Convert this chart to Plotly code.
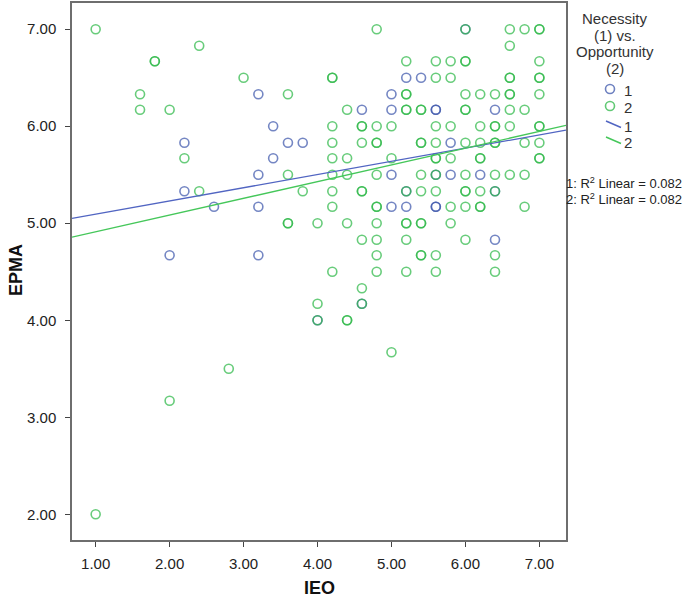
import plotly.graph_objects as go

# ---------------- data ----------------
# Group 1 (Necessity) points
blue_x = [3.2, 3.4, 2.2, 3.6, 3.8, 3.4, 3.2, 2.2, 2.6, 3.2, 2.0, 3.2,
          5.2, 5.4, 5.0, 4.6, 5.0, 5.6, 5.6, 6.4, 5.8, 5.0, 5.8, 6.2, 5.0, 5.2, 5.6, 5.6, 6.4,
          6.0, 5.6, 5.2, 6.4, 4.0, 4.6]
blue_y = [6.33, 6.0, 5.83, 5.83, 5.83, 5.67, 5.5, 5.33, 5.17, 5.17, 4.67, 4.67,
          6.5, 6.5, 6.33, 6.17, 6.17, 6.17, 6.17, 6.17, 5.83, 5.5, 5.5, 5.5, 5.17, 5.17, 5.17, 5.17, 4.83,
          7.0, 5.5, 5.33, 5.33, 4.0, 4.17]

# Group 2 (Opportunity) points
green_x = [1.0, 2.4, 1.8, 1.8, 3.0, 1.6, 3.6, 1.6, 2.0, 2.2, 3.6, 2.4, 3.8, 3.6, 3.6, 1.0, 2.0, 2.8,
           # y = 7.00
           4.8, 6.0, 6.6, 6.8, 7.0, 7.0,
           # y = 6.83
           6.6,
           # y = 6.67
           5.2, 5.6, 5.8, 6.0, 6.0, 7.0,
           # y = 6.50
           4.2, 4.2, 5.6, 5.8, 6.6, 6.6, 7.0, 7.0,
           # y = 6.33
           5.2, 5.2, 6.0, 6.2, 6.4, 6.6, 6.6, 7.0,
           # y = 6.17
           4.4, 5.2, 5.2, 5.4, 5.4, 6.0, 6.0, 6.6, 6.8,
           # y = 6.00
           4.2, 4.6, 4.6, 4.8, 5.0, 5.6, 5.8, 6.2, 6.4, 6.4, 6.6, 7.0, 7.0,
           # y = 5.83
           4.2, 4.6, 4.8, 4.8, 5.4, 5.4, 5.6, 6.0, 6.2, 6.4, 6.4, 6.8, 7.0,
           # y = 5.67
           4.2, 4.4, 5.0, 5.6, 5.6, 5.8, 6.2, 6.2, 7.0, 7.0,
           # y = 5.50
           4.2, 4.4, 4.8, 5.4, 5.6, 6.0, 6.4, 6.6, 6.8,
           # y = 5.33
           4.2, 4.6, 4.6, 5.2, 5.4, 5.6, 6.0, 6.0, 6.2, 6.4,
           # y = 5.17
           4.2, 4.8, 4.8, 5.8, 6.0, 6.2, 6.2, 6.8,
           # y = 5.00
           4.0, 4.4, 4.8, 5.2, 5.2, 5.4, 5.4, 5.8,
           # y = 4.83
           4.6, 4.8, 5.2, 6.0,
           # y = 4.67
           4.8, 5.4, 5.4, 5.6, 6.4,
           # y = 4.50
           4.2, 4.8, 5.2, 5.6, 6.4,
           # y = 4.33, 4.17, 4.00, 3.67
           4.6, 4.0, 4.6, 4.0, 4.4, 4.4, 5.0]
green_y = [7.0, 6.83, 6.67, 6.67, 6.5, 6.33, 6.33, 6.17, 6.17, 5.67, 5.5, 5.33, 5.33, 5.0, 5.0, 2.0, 3.17, 3.5,
           7.0, 7.0, 7.0, 7.0, 7.0, 7.0,
           6.83,
           6.67, 6.67, 6.67, 6.67, 6.67, 6.67,
           6.5, 6.5, 6.5, 6.5, 6.5, 6.5, 6.5, 6.5,
           6.33, 6.33, 6.33, 6.33, 6.33, 6.33, 6.33, 6.33,
           6.17, 6.17, 6.17, 6.17, 6.17, 6.17, 6.17, 6.17, 6.17,
           6.0, 6.0, 6.0, 6.0, 6.0, 6.0, 6.0, 6.0, 6.0, 6.0, 6.0, 6.0, 6.0,
           5.83, 5.83, 5.83, 5.83, 5.83, 5.83, 5.83, 5.83, 5.83, 5.83, 5.83, 5.83, 5.83,
           5.67, 5.67, 5.67, 5.67, 5.67, 5.67, 5.67, 5.67, 5.67, 5.67,
           5.5, 5.5, 5.5, 5.5, 5.5, 5.5, 5.5, 5.5, 5.5,
           5.33, 5.33, 5.33, 5.33, 5.33, 5.33, 5.33, 5.33, 5.33, 5.33,
           5.17, 5.17, 5.17, 5.17, 5.17, 5.17, 5.17, 5.17,
           5.0, 5.0, 5.0, 5.0, 5.0, 5.0, 5.0, 5.0,
           4.83, 4.83, 4.83, 4.83,
           4.67, 4.67, 4.67, 4.67, 4.67,
           4.5, 4.5, 4.5, 4.5, 4.5,
           4.33, 4.17, 4.17, 4.0, 4.0, 4.0, 3.67]

# Linear fit lines (intercept, slope) per group, as shown in the chart
group_names = ["1", "2"]
fit_intercepts = [4.958, 4.739]
fit_slopes = [0.136, 0.1725]
r2_labels = ["1: R<sup>2</sup> Linear = 0.082", "2: R<sup>2</sup> Linear = 0.082"]
legend_title_lines = ["Necessity", "(1) vs.", "Opportunity", "(2)"]

x_ticks = [1, 2, 3, 4, 5, 6, 7]
y_ticks = [2, 3, 4, 5, 6, 7]
x_range = [0.68, 7.36]
y_range = [1.735, 7.27]

# ---------------- styles / layout geometry ----------------
BLUE = "#3E58AC"
GREEN = "#2EB848"
LINE_COLORS = ["#5165c2", "#45c75a"]
MARKER_COLORS = [BLUE, GREEN]
FONT = "Liberation Sans, Arial, sans-serif"

W, H = 685, 597
ML, MR, MT, MB = 72, 119, 3, 57
PW, PH = W - ML - MR, H - MT - MB


def px(xp):
    return (xp - ML) / PW


def py(yp):
    return 1 - (yp - MT) / PH


fig = go.Figure()

marker_common = dict(symbol="circle-open", size=9, opacity=0.72)
fig.add_trace(go.Scatter(x=blue_x, y=blue_y, mode="markers", name="1",
                         marker=dict(color=BLUE, line=dict(width=1.6, color=BLUE), **marker_common)))
fig.add_trace(go.Scatter(x=green_x, y=green_y, mode="markers", name="2",
                         marker=dict(color=GREEN, line=dict(width=1.6, color=GREEN), **marker_common)))

for name, b0, b1, col in zip(group_names, fit_intercepts, fit_slopes, LINE_COLORS):
    xs = x_range
    ys = [b0 + b1 * xv for xv in xs]
    fig.add_trace(go.Scatter(x=xs, y=ys, mode="lines", name=name,
                             line=dict(color=col, width=1.3)))

annotations = []
shapes = []

# legend title (centered lines)
for i, t in enumerate(legend_title_lines):
    annotations.append(dict(text=t, xref="paper", yref="paper", x=px(615), y=py(19 + i * 16.5),
                            xanchor="center", yanchor="middle", showarrow=False,
                            font=dict(family=FONT, size=15, color="#333")))

# legend entries: markers
for i, (name, col) in enumerate(zip(group_names, MARKER_COLORS)):
    cy = 89 + i * 17
    shapes.append(dict(type="circle", xref="paper", yref="paper",
                       x0=px(605.5), x1=px(614.5), y0=py(cy + 4.5), y1=py(cy - 4.5),
                       line=dict(color=col, width=1.6), opacity=0.75))
    annotations.append(dict(text=name, xref="paper", yref="paper", x=px(622), y=py(cy + 1),
                            xanchor="left", yanchor="middle", showarrow=False,
                            font=dict(family=FONT, size=15, color="#333")))
# legend entries: fit lines
for i, (name, col) in enumerate(zip(group_names, LINE_COLORS)):
    cy = 124 + i * 16
    shapes.append(dict(type="line", xref="paper", yref="paper",
                       x0=px(606), x1=px(621), y0=py(cy - 3), y1=py(cy + 3.5),
                       line=dict(color=col, width=1.5)))
    annotations.append(dict(text=name, xref="paper", yref="paper", x=px(622), y=py(cy + 3),
                            xanchor="left", yanchor="middle", showarrow=False,
                            font=dict(family=FONT, size=15, color="#333")))

# R^2 labels
for i, txt in enumerate(r2_labels):
    annotations.append(dict(text=txt, xref="paper", yref="paper", x=px(564), y=py(183 + i * 16.5),
                            xanchor="left", yanchor="middle", showarrow=False,
                            font=dict(family=FONT, size=13, color="#222")))

# axis titles
annotations.append(dict(text="<b>IEO</b>", xref="paper", yref="paper", x=px(319), y=py(588),
                        xanchor="center", yanchor="middle", showarrow=False,
                        font=dict(family=FONT, size=18, color="#111")))
annotations.append(dict(text="<b>EPMA</b>", xref="paper", yref="paper", x=px(16), y=py(270),
                        xanchor="center", yanchor="middle", showarrow=False, textangle=-90,
                        font=dict(family=FONT, size=18, color="#111")))

axis_common = dict(showgrid=False, zeroline=False, showline=True, mirror=True,
                   linecolor="#6e6e6e", linewidth=1.5, ticks="outside", ticklen=5,
                   tickcolor="#444", tickwidth=1.3, tickformat=".2f", automargin=False,
                   tickfont=dict(family=FONT, size=15, color="#222"))

fig.update_layout(
    width=W, height=H,
    margin=dict(l=ML, r=MR, t=MT, b=MB, autoexpand=False),
    paper_bgcolor="white", plot_bgcolor="white",
    font=dict(family=FONT, color="#222"),
    xaxis=dict(range=x_range, tickvals=x_ticks, ticklabelstandoff=4, **axis_common),
    yaxis=dict(range=y_range, tickvals=y_ticks, ticklabelstandoff=6, **axis_common),
    showlegend=False,
    annotations=annotations,
    shapes=shapes,
)

fig.write_html("out.html", config={"displayModeBar": False},
               post_script="document.body.style.margin='0';document.body.style.padding='0';")
